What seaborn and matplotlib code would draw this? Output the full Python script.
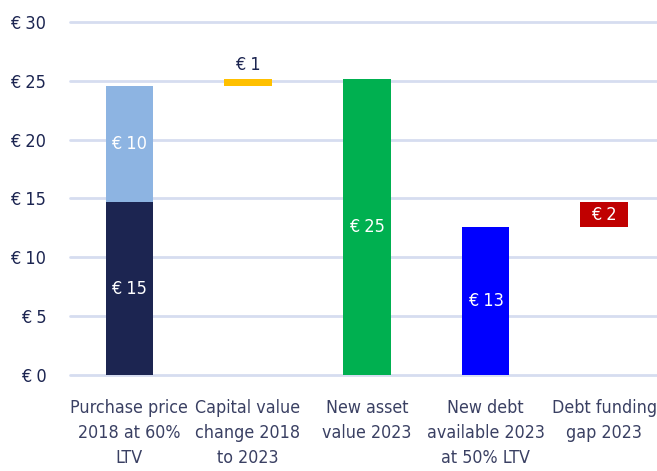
import matplotlib
matplotlib.use("Agg")
import matplotlib.pyplot as plt
import seaborn as sns
import pandas as pd

categories = ["Purchase price\n2018 at 60%\nLTV", "Capital value\nchange 2018\nto 2023",
              "New asset\nvalue 2023", "New debt\navailable 2023\nat 50% LTV", "Debt funding\ngap 2023"]
# main (seaborn) bars, starting at zero
main_values = [14.7, 0, 25.15, 12.57, 0]
main_colors = ["#1C2551", "#FFFFFF", "#00B050", "#0000FF", "#FFFFFF"]
main_labels = ["€ 15", "", "€ 25", "€ 13", ""]
# floating segments: (category index, bottom, height, colour, label)
float_idx = [0, 1, 4]
float_bottom = [14.7, 24.55, 12.57]
float_height = [9.85, 0.6, 2.13]
float_colors = ["#8DB4E2", "#FFC000", "#C00000"]
float_labels = ["€ 10", "€ 1", "€ 2"]
yticks = [0, 5, 10, 15, 20, 25, 30]

sns.set_theme(style="white")
plt.rcParams["font.family"] = ["DejaVu Sans"]
plt.rcParams["font.stretch"] = "condensed"

fig = plt.figure(figsize=(6.57, 4.71), dpi=100)
ax = fig.add_axes([70/657, 1-375/471, 1-70/657, (375-20.8)/471])

df = pd.DataFrame({"cat": categories, "val": main_values})
sns.barplot(data=df, x="cat", y="val", hue="cat", palette=main_colors, legend=False,
            width=0.4, saturation=1, ax=ax, zorder=3, linewidth=0)
ax.bar(float_idx, float_height, bottom=float_bottom, width=0.4, color=float_colors,
       linewidth=0, zorder=3)

txt = "#1C2551"
fs = 13
for i, (v, lab) in enumerate(zip(main_values, main_labels)):
    if lab:
        ax.text(i, v/2, lab, ha="center", va="center", color="white", fontsize=fs, zorder=4)
for i, b, h, lab in zip(float_idx, float_bottom, float_height, float_labels):
    if h < 1:
        ax.text(i, b+h+0.45, lab, ha="center", va="bottom", color=txt, fontsize=fs,
                fontweight="medium", zorder=4)
    else:
        ax.text(i, b+h/2, lab, ha="center", va="center", color="white", fontsize=fs, zorder=4)

ax.set_ylim(0, 30.1)
ax.set_xlim(-0.5, 4.445)
ax.set_yticks(yticks)
ax.set_yticklabels([f"€ {t}" for t in yticks], color=txt, fontsize=fs, fontweight="medium")
ax.tick_params(axis="y", length=0, pad=17)
ax.tick_params(axis="x", length=0, pad=17, labelsize=12.8, labelcolor="#3A4063")
for lab in ax.get_xticklabels():
    lab.set_linespacing(1.5)
ax.set_xlabel("")
ax.set_ylabel("")
ax.yaxis.grid(True, color="#D6DDF0", linewidth=2, zorder=0)
for gl in ax.get_ygridlines():
    gl.set_clip_on(False)
ax.set_axisbelow(True)
for s in ax.spines.values():
    s.set_visible(False)

fig.savefig("out.png", dpi=100)
